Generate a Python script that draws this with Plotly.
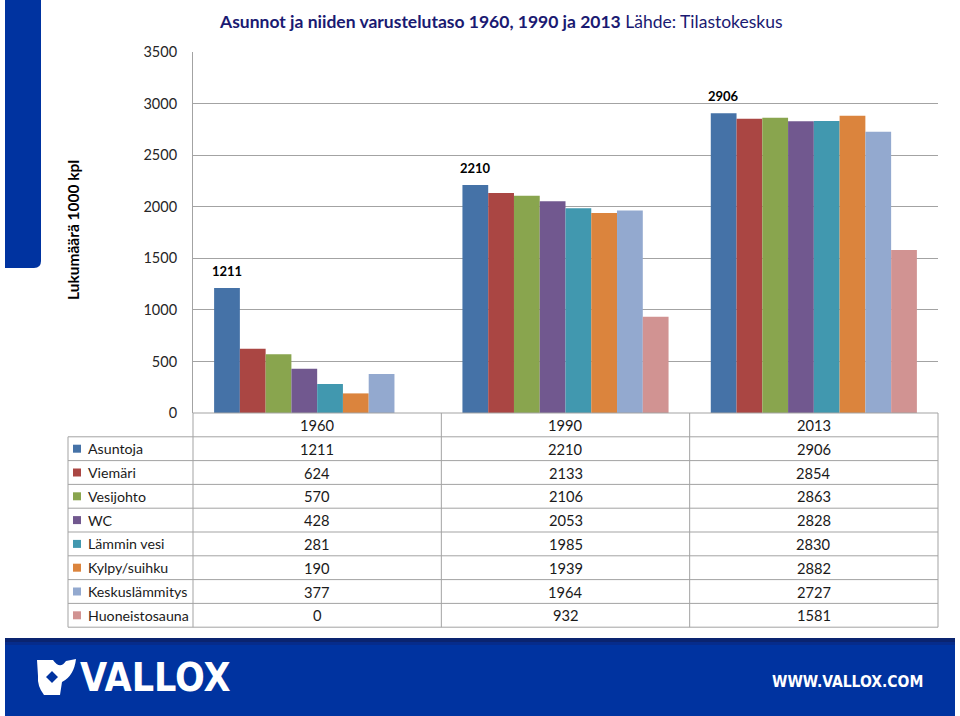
import plotly.graph_objects as go

# ---- data ----
years = ["1960", "1990", "2013"]
series_names = ["Asuntoja", "Viemäri", "Vesijohto", "WC", "Lämmin vesi",
                "Kylpy/suihku", "Keskuslämmitys", "Huoneistosauna"]
asuntoja = [1211, 2210, 2906]
viemari = [624, 2133, 2854]
vesijohto = [570, 2106, 2863]
wc = [428, 2053, 2828]
lammin_vesi = [281, 1985, 2830]
kylpy = [190, 1939, 2882]
keskuslammitys = [377, 1964, 2727]
sauna = [0, 932, 1581]
series_values = [asuntoja, viemari, vesijohto, wc, lammin_vesi, kylpy, keskuslammitys, sauna]
colors = ["#4572A7", "#AA4643", "#89A54E", "#71588F", "#4198AF", "#DB843D", "#93A9CF", "#D19392"]
y_ticks = [0, 500, 1000, 1500, 2000, 2500, 3000, 3500]

title_bold = "Asunnot ja niiden varustelutaso 1960, 1990 ja 2013"
title_rest = " Lähde: Tilastokeskus"
y_title = "Lukumäärä 1000 kpl"

# ---- layout geometry (pixels) ----
W, H = 960, 716
L, R, T, B = 193, 22, 52, 303
PW = W - L - R
PH = H - T - B
BARGAP = 0.17
FONT = "Lato, Calibri, Carlito, sans-serif"
GRID = "#A3A3A3"


def px(x):
    return (x - L) / PW


def py(y):
    return (H - B - y) / PH


fig = go.Figure()
for name, vals, col in zip(series_names, series_values, colors):
    fig.add_trace(go.Bar(name=name, x=years, y=vals, marker=dict(color=col, line=dict(width=0))))

shapes = []
annotations = []

# data labels on the first series (category axis positions are category indices)
bar_w = PW / len(years) * (1 - BARGAP) / len(series_names)
for ci, v in enumerate(asuntoja):
    annotations.append(dict(x=ci, y=v, xref="x", yref="y", text=f"<b>{v}</b>",
                            showarrow=False, xanchor="center", yanchor="bottom", yshift=7,
                            xshift=-(len(series_names) / 2 - 0.5) * bar_w,
                            font=dict(family=FONT, size=13, color="#000000")))

# ---- data table ----
table_top = H - B
row_h = 23.8
n_rows = len(series_names) + 1
table_bottom = table_top + row_h * n_rows
label_left = 68
line = dict(color=GRID, width=1)
for i in range(n_rows + 1):
    yy = table_top + row_h * i
    x0 = L if i == 0 else label_left
    shapes.append(dict(type="line", xref="paper", yref="paper", x0=px(x0), x1=px(W - R),
                       y0=py(yy), y1=py(yy), line=line))
for k in range(len(years) + 1):
    xx = L + PW * k / len(years)
    shapes.append(dict(type="line", xref="paper", yref="paper", x0=px(xx), x1=px(xx),
                       y0=py(table_top), y1=py(table_bottom), line=line))
shapes.append(dict(type="line", xref="paper", yref="paper", x0=px(label_left), x1=px(label_left),
                   y0=py(table_top + row_h), y1=py(table_bottom), line=line))

tfont = dict(family=FONT, size=14.7, color="#1a1a1a")
lfont = dict(family=FONT, size=14.2, color="#1a1a1a")
for ci, yr in enumerate(years):
    annotations.append(dict(x=ci, xref="x", y=py(table_top + row_h / 2), yref="paper",
                            xanchor="center", yanchor="middle",
                            text=yr, showarrow=False, font=tfont))
for r, (name, vals, col) in enumerate(zip(series_names, series_values, colors)):
    yc = table_top + row_h * (r + 1.5)
    shapes.append(dict(type="rect", xref="paper", yref="paper", x0=px(73), x1=px(81),
                       y0=py(yc - 4), y1=py(yc + 4), fillcolor=col, line=dict(width=0)))
    annotations.append(dict(x=px(86), xref="paper", y=py(yc), yref="paper", text=name,
                            xanchor="left", yanchor="middle", showarrow=False, font=lfont))
    for ci, v in enumerate(vals):
        annotations.append(dict(x=ci, xref="x", y=py(yc), yref="paper", text=str(v),
                                xanchor="center", yanchor="middle",
                                showarrow=False, font=tfont))

# ---- titles ----
annotations.append(dict(x=px(217), y=py(22), xref="paper", yref="paper", xanchor="left",
                        yanchor="middle", showarrow=False,
                        text=f"<b>{title_bold}</b>{title_rest}",
                        font=dict(family=FONT, size=17.5, color="#1a1a72")))
annotations.append(dict(x=px(73), y=py(230), xref="paper", yref="paper", textangle=-90,
                        xanchor="center", yanchor="middle",
                        showarrow=False, text=f"<b>{y_title}</b>",
                        font=dict(family=FONT, size=15.5, color="#000000")))

# ---- decorations ----
shapes.append(dict(type="path", xref="paper", yref="paper", fillcolor="#0033A0", line=dict(width=0),
                   path=f"M {px(5)},{py(0)} L {px(41)},{py(0)} L {px(41)},{py(261)} "
                        f"Q {px(41)},{py(268)} {px(34)},{py(268)} L {px(5)},{py(268)} Z"))
shapes.append(dict(type="rect", xref="paper", yref="paper", x0=px(5), x1=px(955),
                   y0=py(638), y1=py(716), fillcolor="#0033A0", line=dict(width=0)))
shapes.append(dict(type="rect", xref="paper", yref="paper", x0=px(5), x1=px(955),
                   y0=py(638), y1=py(642), fillcolor="#0a2470", line=dict(width=0)))
shapes.append(dict(type="rect", xref="paper", yref="paper", x0=px(5), x1=px(955),
                   y0=py(642), y1=py(645), fillcolor="#062c8c", line=dict(width=0)))
shapes.append(dict(type="path", xref="paper", yref="paper", fillcolor="#FFFFFF", line=dict(width=0),
                   path=(f"M {px(37)},{py(660)} L {px(53)},{py(660)} Q {px(60)},{py(670)} {px(66)},{py(661)} "
                         f"L {px(76)},{py(659)} Q {px(74)},{py(676)} {px(62)},{py(682)} "
                         f"L {px(60)},{py(695)} L {px(44)},{py(695)} Q {px(37)},{py(686)} {px(38)},{py(676)} Z")))
shapes.append(dict(type="path", xref="paper", yref="paper", fillcolor="#0033A0",
                   line=dict(color="#FFFFFF", width=1.5),
                   path=(f"M {px(52)},{py(670)} L {px(59)},{py(677)} L {px(52)},{py(684)} "
                         f"L {px(45)},{py(677)} Z")))
annotations.append(dict(x=px(78), y=py(677), xref="paper", yref="paper", xanchor="left",
                        yanchor="middle", showarrow=False, text="<b>VALLOX</b>",
                        font=dict(family="Liberation Sans Narrow, DejaVu Sans Condensed, Liberation Sans",
                                  size=39, color="#FFFFFF")))
annotations.append(dict(x=px(925), y=py(682), xref="paper", yref="paper", xanchor="right",
                        yanchor="middle", showarrow=False, text="<b>WWW.VALLOX.COM</b>",
                        font=dict(family="Liberation Sans Narrow, DejaVu Sans Condensed, Liberation Sans",
                                  size=15.5, color="#FFFFFF")))

fig.update_layout(
    width=W, height=H,
    margin=dict(l=L, r=R, t=T, b=B, pad=0),
    paper_bgcolor="white", plot_bgcolor="white",
    barmode="group", bargap=BARGAP, bargroupgap=0,
    showlegend=False,
    font=dict(family=FONT, size=14, color="#262626"),
    xaxis=dict(type="category", range=[-0.5, len(years) - 0.5], showticklabels=False,
               showgrid=False, showline=False, ticks="", zeroline=False),
    yaxis=dict(range=[0, 3500], tickvals=y_ticks, showgrid=True, gridcolor=GRID, gridwidth=1,
               showline=True, linecolor=GRID, linewidth=1, zeroline=False, ticks="",
               ticklabelstandoff=12, tickfont=dict(family=FONT, size=14.5, color="#262626")),
    shapes=shapes, annotations=annotations,
)

fig.write_html("out.html", config={"displayModeBar": False},
               post_script="document.body.style.margin='0';")
